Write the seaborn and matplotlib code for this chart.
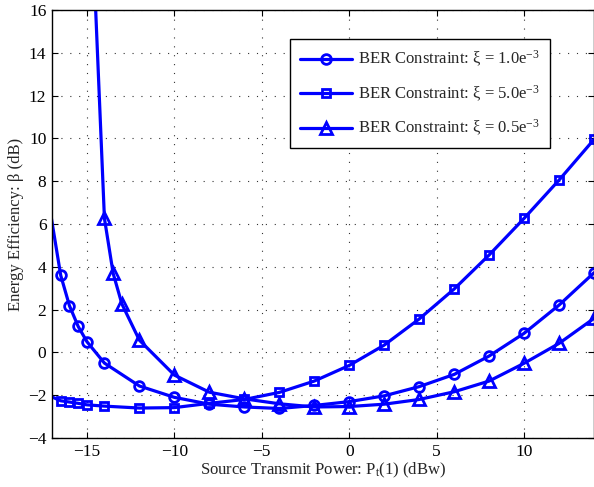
import matplotlib
matplotlib.use("Agg")
import matplotlib.pyplot as plt
import seaborn as sns
import pandas as pd

# ---- data ----
x_circle = [-17.5, -16.5, -16, -15.5, -15, -14, -12, -10, -8, -6, -4, -2, 0, 2, 4, 6, 8, 10, 12, 14]
y_circle = [8.6, 3.6, 2.18, 1.21, 0.5, -0.5, -1.57, -2.1, -2.42, -2.55, -2.62, -2.48, -2.3, -2.03, -1.6, -1.03, -0.17, 0.89, 2.21, 3.72]

x_square = [-17.5, -16.5, -16, -15.5, -15, -14, -12, -10, -8, -6, -4, -2, 0, 2, 4, 6, 8, 10, 12, 14]
y_square = [-1.9, -2.26, -2.32, -2.38, -2.45, -2.51, -2.6, -2.58, -2.38, -2.2, -1.87, -1.34, -0.61, 0.34, 1.56, 2.96, 4.55, 6.26, 8.05, 9.95]

x_tri = [-15, -14, -13.5, -13, -12, -10, -8, -6, -4, -2, 0, 2, 4, 6, 8, 10, 12, 14]
y_tri = [25.7, 6.26, 3.69, 2.26, 0.57, -1.06, -1.86, -2.17, -2.4, -2.55, -2.53, -2.42, -2.2, -1.84, -1.34, -0.51, 0.42, 1.59]

labels = ["BER Constraint: \u03be = 1.0e$^{-3}$",
          "BER Constraint: \u03be = 5.0e$^{-3}$",
          "BER Constraint: \u03be = 0.5e$^{-3}$"]

xticks = [-15, -10, -5, 0, 5, 10]
yticks = [-4, -2, 0, 2, 4, 6, 8, 10, 12, 14, 16]

sns.set_style("ticks")
plt.rcParams["font.family"] = ["Liberation Serif", "DejaVu Serif"]
plt.rcParams["mathtext.fontset"] = "custom"
plt.rcParams["mathtext.rm"] = "Liberation Serif"
plt.rcParams["mathtext.it"] = "Liberation Serif:italic"
plt.rcParams["mathtext.default"] = "regular"

fig = plt.figure(figsize=(5.94, 4.87), dpi=100)
ax = fig.add_axes([0.0875, 0.1006, 0.9125, 0.879])

blue = (0, 0, 1)
series = [(x_circle, y_circle, "o", 7), (x_square, y_square, "s", 5.5), (x_tri, y_tri, "^", 8.5)]
for (xs, ys, m, ms), lab in zip(series, labels):
    df = pd.DataFrame({"x": xs, "y": ys})
    sns.lineplot(data=df, x="x", y="y", ax=ax, color=blue, lw=2.3, marker=m,
                 markersize=ms, markerfacecolor="none", markeredgecolor=blue,
                 markeredgewidth=2.0, label=lab)

ax.set_xlim(-17, 14)
ax.set_ylim(-4, 16)
ax.set_xticks(xticks)
ax.set_yticks(yticks)
ax.set_xticklabels([("\u2212%d" % -t) if t < 0 else str(t) for t in xticks])
ax.set_yticklabels([("\u2212%d" % -t) if t < 0 else str(t) for t in yticks])
ax.tick_params(direction="in", labelsize=12.5, length=4, width=0.8, top=True, right=True,
               colors="black", pad=4)
ax.grid(True, linestyle=(0, (1, 7)), color="#333333", linewidth=0.8)
for s in ax.spines.values():
    s.set_linewidth(1.0)
    s.set_color("black")

ax.set_xlabel("Source Transmit Power: P$_{t}$(1) (dBw)", fontsize=12, labelpad=1)
ax.set_ylabel("Energy Efficiency: \u03b2 (dB)", fontsize=12, labelpad=3)

leg = ax.legend(loc="upper left", bbox_to_anchor=(0.439, 0.932), borderaxespad=0,
                fontsize=12, frameon=True, fancybox=False, edgecolor="black", framealpha=1,
                handlelength=3.1, borderpad=0.6, labelspacing=0.85, handletextpad=0.4)
leg.get_frame().set_linewidth(1.0)

fig.savefig("out.png", dpi=100)
